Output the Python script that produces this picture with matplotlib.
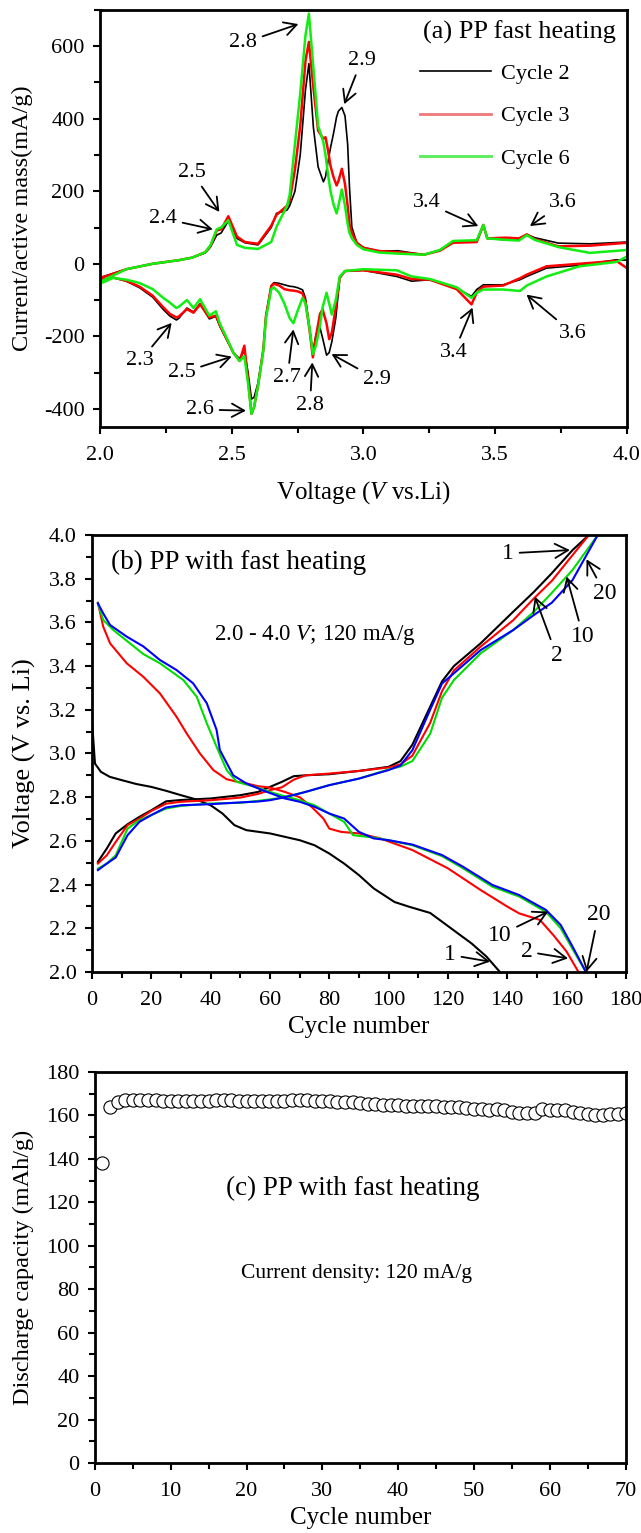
import matplotlib
matplotlib.use("Agg")
import matplotlib.pyplot as plt
from matplotlib.lines import Line2D
from matplotlib.ticker import MultipleLocator, FormatStrFormatter

plt.rcParams["font.family"] = ["Liberation Serif", "DejaVu Serif"]
plt.rcParams["mathtext.fontset"] = "custom"
plt.rcParams["mathtext.rm"] = "Liberation Serif"
plt.rcParams["mathtext.it"] = "Liberation Serif:italic"
plt.rcParams["axes.unicode_minus"] = False

# ---------------- (a) CV curves: anodic branch (2.0 -> 4.0 V) ----------------
cv_up_v = [2.0, 2.1, 2.2, 2.3, 2.35, 2.4, 2.42, 2.443, 2.46, 2.487, 2.52, 2.55,
           2.6, 2.65, 2.67, 2.71, 2.72, 2.74, 2.76, 2.78, 2.793, 2.81, 2.828, 2.848,
           2.856, 2.865, 2.875, 2.886, 2.898, 2.905, 2.918, 2.93, 2.94, 2.947,
           2.956, 2.975,
           3.0, 3.06, 3.13, 3.23, 3.29, 3.34, 3.43, 3.455, 3.47, 3.54, 3.59, 3.62,
           3.65, 3.74, 3.86, 4.0]
cv_up_c2 = [-38, -15, 0, 10, 17, 30, 47, 79, 85, 118, 70, 58,
            52, 100, 139, 148, 160, 200, 300, 480, 552, 376, 267, 226,
            240, 280, 320, 358, 405, 421, 431, 408, 330, 211,
            101, 57,
            45, 35, 36, 25, 38, 61, 64, 107, 70, 66, 67, 81,
            72, 57, 55, 60]
cv_up_c3 = [-40, -15, 0, 10, 17, 32, 50, 92, 95, 131, 75, 60,
            55, 105, 135, 160, 175, 260, 380, 560, 612, 486, 367, 345,
            349, 315, 270, 240, 216, 228, 262, 220, 160, 110,
            85, 58,
            44, 35, 32, 25, 36, 58, 60, 107, 70, 72, 70, 81,
            68, 48, 50, 58]
cv_up_c6 = [-50, -15, 0, 10, 17, 32, 52, 95, 100, 120, 52, 44,
            41, 60, 102, 160, 190, 330, 470, 630, 690, 540, 380, 335,
            300, 250, 200, 165, 139, 160, 205, 160, 110, 85,
            70, 52,
            40, 31, 28, 25, 38, 63, 65, 107, 70, 66, 64, 79,
            66, 46, 30, 38]

# ---------------- (a) CV curves: cathodic branch (4.0 -> 2.0 V) ----------------
cv_dn_v = [4.0, 3.96, 3.82, 3.695, 3.62, 3.594, 3.53, 3.455, 3.43, 3.41, 3.354,
           3.252, 3.183, 3.126, 3.0,
           2.93, 2.91, 2.895, 2.88, 2.87, 2.86, 2.845, 2.835, 2.82, 2.808, 2.795,
           2.78, 2.769, 2.75, 2.734, 2.72, 2.7, 2.68, 2.66, 2.65, 2.63, 2.62, 2.6,
           2.585, 2.575, 2.562, 2.548, 2.53, 2.506, 2.481,
           2.455, 2.44, 2.415, 2.38, 2.355, 2.33, 2.3, 2.29, 2.265, 2.24, 2.2,
           2.15, 2.1, 2.05, 2.0]
cv_dn_c2 = [10, 11, -4, -12, -35, -44, -58, -58, -71, -90, -67,
            -44, -48, -35, -18,
            -20, -40, -150, -215, -245, -252, -205, -176, -195, -245, -175,
            -95, -72, -66, -63, -62, -58, -54, -52, -60, -144, -236, -328,
            -368, -373, -300, -240, -262, -245, -210,
            -172, -145, -152, -110, -133, -122, -150, -155, -144, -126, -92,
            -66, -48, -38, -45]
cv_dn_c3 = [-12, 8, 0, -7, -30, -40, -60, -63, -80, -112, -70,
            -44, -42, -30, -18,
            -20, -38, -120, -190, -208, -165, -126, -138, -200, -258, -180,
            -105, -82, -76, -74, -73, -70, -60, -55, -62, -144, -236, -335,
            -395, -414, -320, -226, -268, -245, -208,
            -170, -143, -148, -112, -135, -125, -145, -148, -138, -120, -88,
            -63, -47, -38, -45]
cv_dn_c6 = [20, 5, -7, -35, -60, -75, -71, -71, -80, -94, -65,
            -42, -35, -18, -15,
            -20, -35, -100, -140, -110, -80, -120, -170, -225, -249, -175,
            -110, -94, -130, -164, -150, -110, -80, -65, -70, -150, -240, -335,
            -395, -414, -330, -255, -268, -245, -205,
            -165, -131, -143, -98, -122, -100, -118, -122, -107, -94, -70,
            -53, -44, -39, -55]

# ---------------- (b) charge / discharge profiles ----------------
chg_x = [2, 5, 8, 12, 16, 20, 25, 30, 40, 50, 56, 60, 64, 68, 72, 80, 90,
         100, 104, 108, 114, 118, 122, 131, 142, 149, 155, 162]
chg_end_12 = 167.5
chg_end_1020 = 170.5
chg_c1 = [2.504, 2.565, 2.634, 2.676, 2.71, 2.74, 2.781, 2.787, 2.794, 2.809, 2.824,
          2.847, 2.87, 2.896, 2.90, 2.905, 2.92,
          2.939, 2.965, 3.04, 3.214, 3.33, 3.40, 3.504, 3.649, 3.74, 3.825, 3.931]
chg_c2 = [2.496, 2.534, 2.595, 2.672, 2.702, 2.737, 2.77, 2.779, 2.786, 2.798, 2.815,
          2.832, 2.845, 2.88, 2.90, 2.908, 2.92,
          2.936, 2.95, 2.99, 3.14, 3.285, 3.38, 3.489, 3.61, 3.71, 3.79, 3.908]
chg_c10 = [2.473, 2.496, 2.534, 2.656, 2.695, 2.718, 2.748, 2.76, 2.771, 2.774, 2.783,
           2.79, 2.797, 2.81, 2.824, 2.855, 2.885,
           2.927, 2.94, 2.965, 3.09, 3.255, 3.336, 3.458, 3.565, 3.649, 3.735, 3.84]
chg_c20 = [2.466, 2.496, 2.524, 2.626, 2.687, 2.718, 2.753, 2.763, 2.768, 2.776, 2.78,
           2.786, 2.797, 2.81, 2.824, 2.855, 2.885,
           2.924, 2.945, 3.015, 3.20, 3.32, 3.367, 3.473, 3.565, 3.634, 3.69, 3.794]

dis_c1_x = [0, 1, 3, 6, 10, 15, 20, 25, 30, 35, 40, 44, 48, 52, 60, 70, 75, 80, 85,
            90, 95, 102, 107, 114, 120, 128, 133, 137.5]
dis_c1 = [3.153, 2.954, 2.916, 2.893, 2.878, 2.86, 2.847, 2.829, 2.809, 2.79, 2.763,
          2.725, 2.672, 2.649, 2.634, 2.603, 2.58, 2.542, 2.496, 2.443, 2.382, 2.32,
          2.298, 2.27, 2.21, 2.13, 2.07, 2.0]
dis_c2_x = [2, 3.8, 6.1, 11.7, 17.3, 22.9, 28.5, 31.9, 36.4, 40.9, 45.4, 48.8, 52, 56,
            60, 65, 70, 74, 78, 80, 84, 90, 97, 108, 120, 131, 140, 144, 151, 155.5,
            160, 164]
dis_c2 = [3.69, 3.58, 3.504, 3.413, 3.351, 3.275, 3.168, 3.092, 3.0, 2.924, 2.882,
          2.871, 2.863, 2.85, 2.844, 2.824, 2.80, 2.756, 2.702, 2.656, 2.641, 2.634,
          2.612, 2.558, 2.474, 2.375, 2.299, 2.268, 2.238, 2.169, 2.093, 2.0]
dis_c10_x = [2, 3.8, 7.2, 17.3, 22.9, 30.8, 35.3, 38.7, 42, 45.4, 48.8, 55, 60, 65,
             70, 75, 80, 85, 88, 95, 100, 108, 118, 125, 135, 144, 153, 158, 162,
             166.5]
dis_c10 = [3.687, 3.611, 3.565, 3.455, 3.413, 3.336, 3.26, 3.138, 3.031, 2.924,
           2.87, 2.847, 2.824, 2.804, 2.786, 2.763, 2.725, 2.687, 2.626, 2.615, 2.603,
           2.58, 2.53, 2.475, 2.39, 2.345, 2.275, 2.2, 2.105, 2.0]
dis_c20_x = [2, 3.8, 6.1, 11.7, 17.3, 22.9, 28.5, 34.1, 38.7, 42, 43.1, 47.6, 52, 58,
             65, 70, 75, 80, 85, 90, 95, 100, 108, 118, 125, 135, 144, 153, 158, 162,
             166.5]
dis_c20 = [3.687, 3.641, 3.588, 3.535, 3.49, 3.428, 3.382, 3.321, 3.23, 3.108, 3.016,
           2.90, 2.863, 2.829, 2.794, 2.779, 2.756, 2.725, 2.702, 2.641, 2.611, 2.603,
           2.583, 2.535, 2.482, 2.398, 2.352, 2.284, 2.215, 2.116, 2.0]

# ---------------- (c) discharge capacity vs cycle ----------------
cycles = list(range(1, 71))
capacity = [138, 164, 166, 167, 167.3, 167.3, 167.2, 167, 166.8, 166.7,
            166.7, 166.6, 166.6, 166.5, 166.6, 167, 167, 167, 166.8, 166.8,
            166.8, 166.8, 166.7, 166.7, 166.8, 167, 167.2, 167, 166.8, 166.6,
            166.5, 166.4, 166.3, 166, 165.8, 165.5, 165.2, 165, 164.8, 164.6,
            164.5, 164.3, 164.2, 164.2, 164.3, 164.1, 163.9, 163.7, 163.5, 163.2,
            162.9, 162.7, 163, 162.5, 161.6, 161.2, 161, 161.2, 162.8, 162.6,
            162.4, 162.5, 161.8, 161, 160.6, 160.4, 160.3, 160.6, 160.8, 161]

ARROW = dict(arrowstyle="->,head_length=0.55,head_width=0.3", color="black", lw=1.3,
             shrinkA=2, shrinkB=0)
TICK_FS = 16


def style_axes(ax):
    for s in ax.spines.values():
        s.set_linewidth(2.0)
    ax.tick_params(which="both", direction="out", top=False, right=False,
                   labelsize=TICK_FS, width=1.5)
    ax.tick_params(axis="x", which="both", pad=9)
    ax.tick_params(axis="y", which="both", pad=6)
    ax.tick_params(which="major", length=5)
    ax.tick_params(which="minor", length=4)


def note(ax, txt, tip, pos, fs):
    ax.annotate(txt, xy=tip, xytext=pos, ha="center", va="center", fontsize=fs,
                arrowprops=ARROW)


fig = plt.figure(figsize=(6.41, 15.33), dpi=100)

# ---------------- panel (a) ----------------
ax1 = fig.add_axes([0.156, 0.7215, 0.822, 0.272])
ax1.plot(cv_up_v, cv_up_c2, color="black", lw=1.2)
ax1.plot(cv_dn_v, cv_dn_c2, color="black", lw=1.2)
ax1.plot(cv_up_v, cv_up_c3, color="#ff0000", lw=1.8)
ax1.plot(cv_dn_v, cv_dn_c3, color="#ff0000", lw=1.8)
ax1.plot(cv_up_v, cv_up_c6, color="#11ee11", lw=1.8)
ax1.plot(cv_dn_v, cv_dn_c6, color="#11ee11", lw=1.8)
ax1.set_xlim(2.0, 4.0)
ax1.set_ylim(-450, 700)
ax1.xaxis.set_major_locator(MultipleLocator(0.5))
ax1.xaxis.set_minor_locator(MultipleLocator(0.25))
ax1.xaxis.set_major_formatter(FormatStrFormatter("%.1f"))
ax1.yaxis.set_major_locator(MultipleLocator(200))
ax1.yaxis.set_minor_locator(MultipleLocator(100))
style_axes(ax1)
ax1.set_xlabel("Voltage ($V$ vs.Li)", fontsize=18, labelpad=10)
ax1.set_ylabel("Current/active mass(mA/g)", fontsize=17.5, labelpad=8)
ax1.text(0.979, 0.947, "(a) PP fast heating", transform=ax1.transAxes,
         ha="right", va="center", fontsize=19)
handles = [Line2D([], [], color="black", lw=1.2),
           Line2D([], [], color="#f07878", lw=2.0),
           Line2D([], [], color="#55ee55", lw=2.0)]
ax1.legend(handles, ["Cycle 2", "Cycle 3", "Cycle 6"], loc="upper left",
           bbox_to_anchor=(0.59, 0.893), frameon=False, fontsize=16,
           handlelength=3.2, handletextpad=0.45, labelspacing=0.98, borderaxespad=0)

fa = 16
note(ax1, "2.8", (2.753, 661), (2.544, 609), fa)
note(ax1, "2.9", (2.927, 440), (2.993, 561), fa)
note(ax1, "2.5", (2.453, 143), (2.348, 253), fa)
note(ax1, "2.4", (2.428, 95), (2.24, 125), fa)
note(ax1, "3.4", (3.436, 104), (3.24, 168), fa)
note(ax1, "3.6", (3.632, 104), (3.758, 168), fa)
note(ax1, "2.3", (2.272, -163), (2.152, -268), fa)
note(ax1, "2.5", (2.5, -256), (2.31, -301), fa)
note(ax1, "2.6", (2.554, -405), (2.38, -402), fa)
note(ax1, "2.7", (2.734, -181), (2.711, -315), fa)
note(ax1, "2.8", (2.806, -272), (2.797, -391), fa)
note(ax1, "2.9", (2.879, -249), (3.05, -318), fa)
note(ax1, "3.4", (3.414, -121), (3.343, -245), fa)
note(ax1, "3.6", (3.619, -85), (3.796, -192), fa)

# ---------------- panel (b) ----------------
ax2 = fig.add_axes([0.1435, 0.366, 0.833, 0.285])
ax2.plot(chg_x + [chg_end_12], chg_c1 + [4.0], color="black", lw=1.5)
ax2.plot(dis_c1_x, dis_c1, color="black", lw=1.5)
ax2.plot(chg_x + [chg_end_12], chg_c2 + [4.0], color="#ff0000", lw=1.5)
ax2.plot(dis_c2_x, dis_c2, color="#ff0000", lw=1.5)
ax2.plot(chg_x + [chg_end_1020], chg_c10 + [4.0], color="#00dd00", lw=1.5)
ax2.plot(dis_c10_x, dis_c10, color="#00dd00", lw=1.5)
ax2.plot(chg_x + [chg_end_1020], chg_c20 + [4.0], color="#0000ff", lw=1.5)
ax2.plot(dis_c20_x, dis_c20, color="#0000ff", lw=1.5)
ax2.set_xlim(0, 180)
ax2.set_ylim(2.0, 4.0)
ax2.xaxis.set_major_locator(MultipleLocator(20))
ax2.xaxis.set_minor_locator(MultipleLocator(10))
ax2.yaxis.set_major_locator(MultipleLocator(0.2))
ax2.yaxis.set_minor_locator(MultipleLocator(0.1))
ax2.yaxis.set_major_formatter(FormatStrFormatter("%.1f"))
style_axes(ax2)
ax2.set_xlabel("Cycle number", fontsize=18, labelpad=4)
ax2.set_ylabel("Voltage (V vs. Li)", fontsize=19, labelpad=9)
ax2.text(6.4, 3.873, "(b) PP with fast heating", ha="left", va="center", fontsize=19.5)
ax2.text(41.2, 3.542, "2.0 - 4.0 $V$; 120 mA/g", ha="left", va="center", fontsize=16.5)

fb = 17
note(ax2, "1", (161.1, 3.931), (140.3, 3.916), fb)
note(ax2, "20", (166.7, 3.889), (172.9, 3.733), fb)
note(ax2, "10", (160.0, 3.81), (165.6, 3.535), fb)
note(ax2, "2", (149.3, 3.718), (156.6, 3.45), fb)
note(ax2, "20", (166.7, 2.0), (170.7, 2.261), fb)
note(ax2, "10", (153.8, 2.276), (137.5, 2.169), fb)
note(ax2, "2", (160.5, 2.062), (146.5, 2.093), fb)
note(ax2, "1", (134.2, 2.047), (120.7, 2.078), fb)

# ---------------- panel (c) ----------------
ax3 = fig.add_axes([0.148, 0.0457, 0.828, 0.255])
ax3.plot(cycles, capacity, linestyle="none", marker="o", ms=9.5, mfc="white",
         mec="black", mew=0.8)
ax3.set_xlim(0, 70)
ax3.set_ylim(0, 180)
ax3.xaxis.set_major_locator(MultipleLocator(10))
ax3.xaxis.set_minor_locator(MultipleLocator(5))
ax3.yaxis.set_major_locator(MultipleLocator(20))
ax3.yaxis.set_minor_locator(MultipleLocator(10))
style_axes(ax3)
ax3.set_xlabel("Cycle number", fontsize=18, labelpad=4)
ax3.set_ylabel("Discharge capacity (mAh/g)", fontsize=17.5, labelpad=9)
ax3.text(34, 126.6, "(c) PP with fast heating", ha="center", va="center", fontsize=19.5)
ax3.text(34.5, 87, "Current density: 120 mA/g", ha="center", va="center", fontsize=15.5)

fig.savefig("out.png", dpi=100)
